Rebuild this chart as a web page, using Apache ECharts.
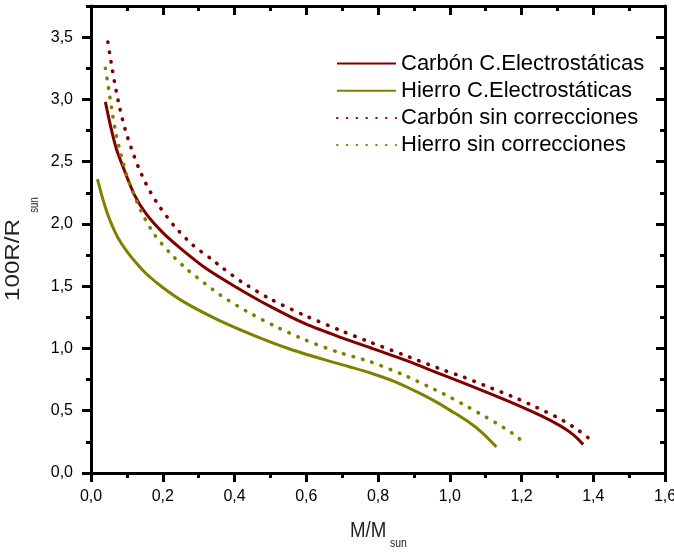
<!DOCTYPE html>
<html>
<head>
<meta charset="utf-8">
<script src="https://cdn.jsdelivr.net/npm/echarts@6/dist/echarts.min.js"></script>
<style>html,body{margin:0;padding:0;background:#fff;}#c{width:674px;height:554px;}</style>
</head>
<body>
<div id="c"></div>
<script>
// ---- data ----
const seriesNames = ['Carbón C.Electrostáticas', 'Hierro C.Electrostáticas', 'Carbón sin correcciones', 'Hierro sin correcciones'];

const carbonCE_M = [0.040, 0.055, 0.071, 0.089, 0.12, 0.154, 0.20, 0.247, 0.317, 0.40, 0.498, 0.60, 0.70, 0.777, 0.88, 0.972, 1.0, 1.1, 1.173, 1.254, 1.307, 1.334, 1.355, 1.372];
const carbonCE_R = [2.98, 2.78, 2.60, 2.46, 2.24, 2.08, 1.93, 1.81, 1.65, 1.50, 1.34, 1.195, 1.085, 1.008, 0.902, 0.797, 0.766, 0.652, 0.565, 0.46, 0.38, 0.33, 0.28, 0.228];

const hierroCE_M = [0.018, 0.030, 0.045, 0.060, 0.075, 0.10, 0.125, 0.154, 0.20, 0.261, 0.354, 0.45, 0.55, 0.65, 0.72, 0.777, 0.85, 0.92, 0.972, 1.0, 1.05, 1.09, 1.13];
const hierroCE_R = [2.36, 2.23, 2.09, 1.98, 1.89, 1.78, 1.69, 1.60, 1.49, 1.37, 1.23, 1.11, 1.0, 0.91, 0.853, 0.805, 0.73, 0.635, 0.555, 0.505, 0.415, 0.325, 0.21];

const carbonSin_M = [0.047, 0.052, 0.060, 0.070, 0.081, 0.095, 0.112, 0.133, 0.159, 0.191, 0.233, 0.284, 0.337, 0.363, 0.419, 0.498, 0.60, 0.70, 0.768, 0.87, 0.983, 1.037, 1.10, 1.172, 1.24, 1.306, 1.35, 1.385, 1.398];
const carbonSin_R = [3.46, 3.37, 3.23, 3.07, 2.92, 2.76, 2.61, 2.45, 2.29, 2.14, 1.98, 1.83, 1.715, 1.655, 1.537, 1.40, 1.26, 1.14, 1.062, 0.95, 0.826, 0.772, 0.70, 0.617, 0.53, 0.437, 0.36, 0.285, 0.255];

const hierroSin_M = [0.040, 0.045, 0.051, 0.060, 0.070, 0.084, 0.10, 0.119, 0.145, 0.178, 0.219, 0.27, 0.36, 0.433, 0.512, 0.596, 0.689, 0.777, 0.87, 0.944, 1.0, 1.051, 1.10, 1.15, 1.186, 1.205];
const hierroSin_R = [3.25, 3.16, 3.05, 2.88, 2.72, 2.55, 2.39, 2.24, 2.07, 1.91, 1.77, 1.63, 1.43, 1.30, 1.18, 1.07, 0.97, 0.895, 0.79, 0.69, 0.61, 0.53, 0.45, 0.365, 0.295, 0.245];

const xTickValues = [0, 0.2, 0.4, 0.6, 0.8, 1.0, 1.2, 1.4, 1.6];
const xMinorValues = [0.1, 0.3, 0.5, 0.7, 0.9, 1.1, 1.3, 1.5];
const yTickValues = [0, 0.5, 1.0, 1.5, 2.0, 2.5, 3.0, 3.5];
const yMinorValues = [0.25, 0.75, 1.25, 1.75, 2.25, 2.75, 3.25, 3.75];

// ---- chart ----
const WINE = '#800000', OLIVE = '#808000';
const pair = (a, b) => a.map((v, i) => [v, b[i]]);
const fmt = v => (Math.round(v * 10) / 10).toFixed(1).replace('.', ',');
const FONT = 'Liberation Sans, Arial, sans-serif';

function xAx(pos, major, inside, labels) {
  return {
    type: 'value', position: pos, min: 0, max: 1.6, interval: 0.2,
    axisLine: { show: major, onZero: false, lineStyle: { color: '#000', width: 3 } },
    axisTick: { show: true, inside: inside, length: major ? 9 : 5, customValues: major ? xTickValues : xMinorValues, lineStyle: { color: '#000', width: 3 } },
    axisLabel: { show: labels, margin: 16, customValues: xTickValues, formatter: fmt, color: '#000', fontSize: 16, fontFamily: FONT },
    splitLine: { show: false }
  };
}
function yAx(pos, major, inside, labels) {
  return {
    type: 'value', position: pos, min: 0, max: 3.75, interval: 0.25,
    axisLine: { show: major, onZero: false, lineStyle: { color: '#000', width: 3 } },
    axisTick: { show: true, inside: inside, length: major ? 9 : 5, customValues: major ? yTickValues : yMinorValues, lineStyle: { color: '#000', width: 3 } },
    axisLabel: { show: labels, margin: 18, customValues: yTickValues, formatter: fmt, color: '#000', fontSize: 16, fontFamily: FONT },
    splitLine: { show: false }
  };
}

const solid = (c) => ({ color: c, width: 3, type: 'solid' });
const dotted = (c) => ({ color: c, width: 3.6, type: [0.5, 9.3], cap: 'round' });

const chart = echarts.init(document.getElementById('c'), null, { renderer: 'canvas' });
chart.setOption({
  backgroundColor: '#fff',
  animation: false,
  grid: { left: 91, right: 9, top: 6, bottom: 81, containLabel: false, outerBoundsMode: 'none' },
  xAxis: [xAx('bottom', true, false, true), xAx('bottom', false, false, false), xAx('top', true, true, false), xAx('top', false, true, false)],
  yAxis: [yAx('left', true, false, true), yAx('left', false, false, false), yAx('right', true, true, false), yAx('right', false, true, false)],
  legend: {
    orient: 'vertical', left: 336, top: 52.5, padding: 0,
    itemWidth: 59, itemHeight: 20, itemGap: 5.2,
    itemStyle: { opacity: 0 },
    textStyle: { fontSize: 22, fontFamily: FONT, color: '#000', lineHeight: 20 },
    data: seriesNames
  },
  series: [
    { name: seriesNames[0], type: 'line', data: pair(carbonCE_M, carbonCE_R), color: WINE, lineStyle: solid(WINE), symbol: 'none', showSymbol: false, smooth: 0.25 },
    { name: seriesNames[1], type: 'line', data: pair(hierroCE_M, hierroCE_R), color: OLIVE, lineStyle: solid(OLIVE), symbol: 'none', showSymbol: false, smooth: 0.25 },
    { name: seriesNames[2], type: 'line', data: pair(carbonSin_M, carbonSin_R), color: WINE, lineStyle: dotted(WINE), symbol: 'none', showSymbol: false, smooth: 0.25 },
    { name: seriesNames[3], type: 'line', data: pair(hierroSin_M, hierroSin_R), color: OLIVE, lineStyle: dotted(OLIVE), symbol: 'none', showSymbol: false, smooth: 0.25 }
  ],
  graphic: [
    { type: 'text', x: 350, y: 531, scaleX: 0.85, style: { text: 'M/M', font: '22px ' + FONT, fill: '#222', align: 'left', verticalAlign: 'middle' } },
    { type: 'text', x: 390, y: 543, scaleX: 0.8, style: { text: 'sun', font: '13px ' + FONT, fill: '#222', align: 'left', verticalAlign: 'middle' } },
    { type: 'text', x: 13, y: 260, rotation: Math.PI / 2, scaleX: 1.15, style: { text: '100R/R', font: '21px ' + FONT, fill: '#222', align: 'center', verticalAlign: 'middle' } },
    { type: 'text', x: 35, y: 205, rotation: Math.PI / 2, scaleX: 0.8, style: { text: 'sun', font: '12px ' + FONT, fill: '#222', align: 'center', verticalAlign: 'middle' } }
  ]
});
</script>
</body>
</html>
